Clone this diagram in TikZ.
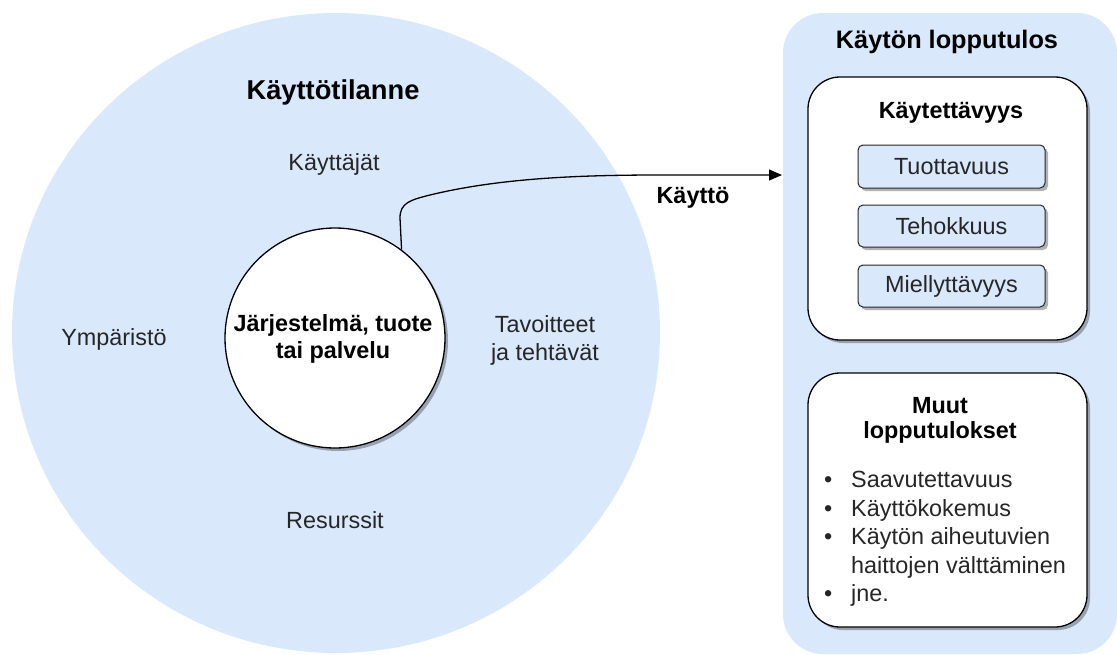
\documentclass[tikz,border=0pt]{standalone}
\usepackage{fontspec}
\setmainfont{Liberation Sans}
\usetikzlibrary{shapes.geometric,shadows,arrows.meta}
\definecolor{lblue}{HTML}{DAE8FC}
\begin{document}
\begin{tikzpicture}[x=1pt,y=-1pt,
  normtext/.style={font=\fontsize{23.4}{28.5}\selectfont, text=black!85, inner sep=0, anchor=base},
  boldtext/.style={font=\fontsize{23.4}{28.5}\selectfont\bfseries, text=black, inner sep=0, anchor=base},
  shad/.style={drop shadow={shadow xshift=3pt, shadow yshift=-3pt, opacity=0.3, fill=black}},
  bigbox/.style={draw=black, line width=1.3pt, fill=white, rounded corners=32pt, shad, minimum width=279pt, inner sep=0},
  smallbox/.style={draw=black!85, line width=1pt, fill=lblue, rounded corners=5pt, shad, minimum width=187pt, minimum height=42pt, inner sep=0, font=\fontsize{23.4}{28.5}\selectfont, text=black!85},
]
\useasboundingbox (0,0) rectangle (1117,654);

% context circle
\node[ellipse, fill=lblue, minimum width=648pt, minimum height=640pt, inner sep=0] (context) at (336,333) {};
\node[boldtext, font=\fontsize{27.3}{32}\selectfont\bfseries] (ctxtitle) at (333,99) {Käyttötilanne};
\node[normtext] (users) at (334,170) {Käyttäjät};
\node[normtext] (env) at (114,345) {Ympäristö};
\node[normtext] (res) at (335,528) {Resurssit};
\node[normtext] (goals) at (545,332) {\begin{tabular}[t]{@{}c@{}}Tavoitteet\\ja tehtävät\end{tabular}};

% system circle
\node[circle, draw=black, line width=1.3pt, fill=white, shad, minimum size=220pt, inner sep=0] (system) at (335,338) {};
\node[boldtext] (systext) at (333,331) {\begin{tabular}[t]{@{}c@{}}Järjestelmä, tuote\\[-1pt]tai palvelu\end{tabular}};

% outcome panel
\node[rectangle, fill=lblue, rounded corners=40pt, minimum width=334pt, minimum height=641pt, inner sep=0] (panel) at (950,333.5) {};
\node[boldtext, font=\fontsize{25.3}{30}\selectfont\bfseries] (paneltitle) at (947,48) {Käytön lopputulos};

\node[bigbox, minimum height=263pt] (usab) at (947.5,208.5) {};
\node[boldtext] (usabtitle) at (951,118) {Käytettävyys};
\node[smallbox, minimum height=43pt] (prod) at (951.5,166.5) {Tuottavuus};
\node[smallbox] (eff) at (951.5,226) {Tehokkuus};
\node[smallbox] (sat) at (951.5,286) {Miellyttävyys};

\node[bigbox, minimum height=254pt] (other) at (947.5,500) {};
\node[boldtext] (othertitle) at (940,413) {\begin{tabular}[t]{@{}c@{}}Muut\\[-3.5pt]lopputulokset\end{tabular}};
\node[normtext, anchor=base west] (otherlist) at (824,487.7) {\begin{tabular}[t]{@{}l@{\hspace{18.8pt}}l@{}}
\textbullet & Saavutettavuus\\
\textbullet & Käyttökokemus\\
\textbullet & Käytön aiheutuvien\\
 & haittojen välttäminen\\
\textbullet & jne.
\end{tabular}};

% connector
\coordinate (tip) at (782,175);
\draw[line width=1.3pt, -{Triangle[length=13pt,width=11pt]}]
  (system.53.8) -- (400,218) .. controls (400,203) and (410,200) .. (430,195)
  .. controls (500,178) and (580,175) .. (660,175) -- (tip);
\node[boldtext] (uselabel) at (693,203) {Käyttö};
\end{tikzpicture}
\end{document}
